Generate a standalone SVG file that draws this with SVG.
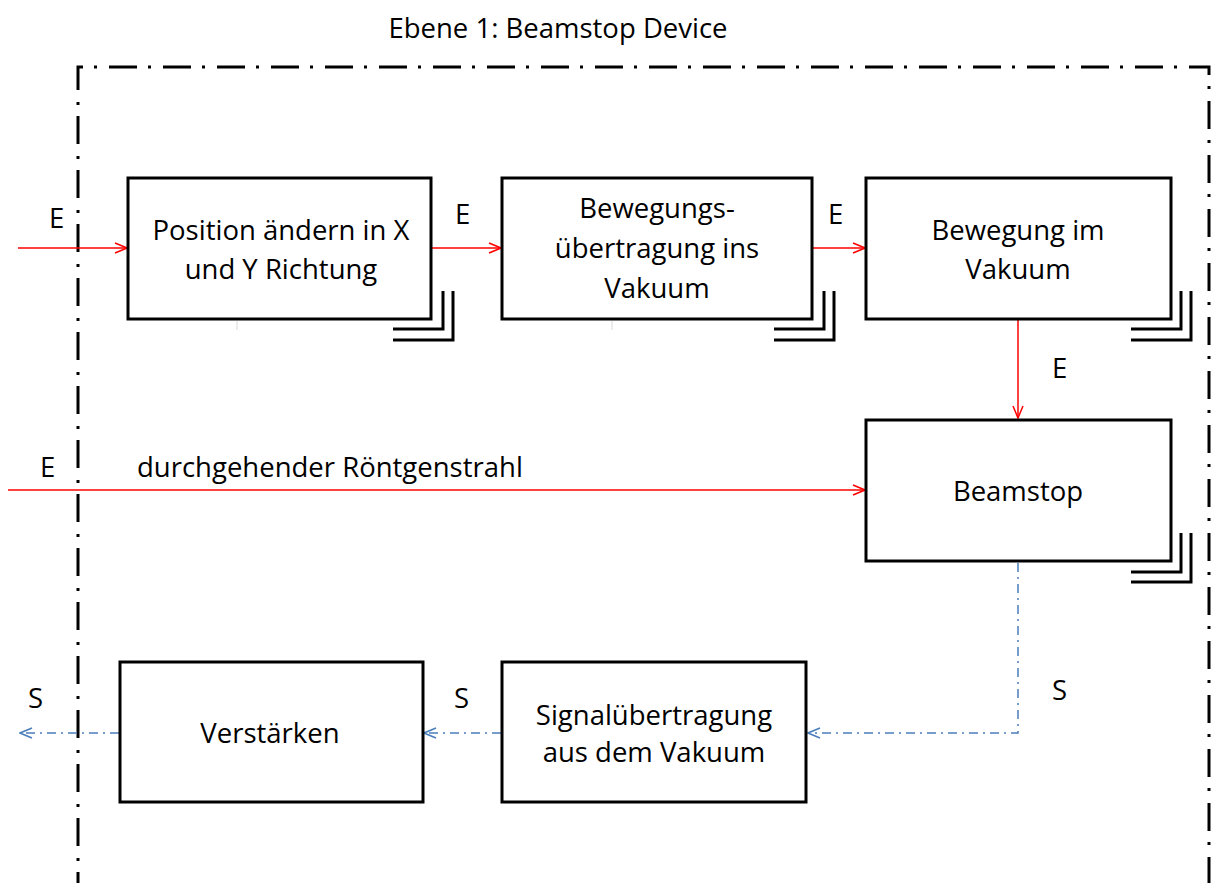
<svg xmlns="http://www.w3.org/2000/svg" width="1217" height="883" viewBox="0 0 1217 883">
  <style>
    .lbl { font-family: "Open Sans", "Noto Sans", sans-serif; font-size: 27.5px; fill: #000; }
    .mid { text-anchor: middle; }
    .box { fill: #fff; stroke: #000; stroke-width: 3; }
    .stack { fill: none; stroke: #000; stroke-width: 3; }
    .energy { fill: none; stroke: #ff0000; stroke-width: 1.5; }
    .signal { fill: none; stroke: #4a7ebb; stroke-width: 1.5; stroke-dasharray: 9 5 2 5; }
    .frame { fill: none; stroke: #000; stroke-width: 3; stroke-dasharray: 28 11 3 12; }
  </style>
  <defs>
    <marker id="arrowRed" viewBox="0 0 14 12" refX="13" refY="6" markerWidth="14" markerHeight="12" markerUnits="userSpaceOnUse" orient="auto">
      <path d="M1,1 L13,6 L1,11" fill="none" stroke="#ff0000" stroke-width="1.5"/>
    </marker>
    <marker id="arrowBlue" viewBox="0 0 14 12" refX="13" refY="6" markerWidth="14" markerHeight="12" markerUnits="userSpaceOnUse" orient="auto">
      <path d="M1,1 L13,6 L1,11" fill="none" stroke="#4a7ebb" stroke-width="1.5"/>
    </marker>
  </defs>

  <rect width="1217" height="883" fill="#fff"/>

  <text class="lbl mid" x="558" y="38">Ebene 1: Beamstop Device</text>

  <!-- system boundary -->
  <path class="frame" d="M78,900 L78,67 L1209,67 L1209,900"/>

  <!-- connectors -->
  <g id="connectors">
    <line class="energy" x1="18" y1="248" x2="127" y2="248" marker-end="url(#arrowRed)"/>
    <line class="energy" x1="432" y1="248" x2="501" y2="248" marker-end="url(#arrowRed)"/>
    <line class="energy" x1="813" y1="248" x2="865" y2="248" marker-end="url(#arrowRed)"/>
    <line class="energy" x1="1018" y1="320" x2="1018" y2="418" marker-end="url(#arrowRed)"/>
    <line class="energy" x1="8" y1="490" x2="865" y2="490" marker-end="url(#arrowRed)"/>
    <polyline class="signal" points="1018,563 1018,733 808,733" marker-end="url(#arrowBlue)"/>
    <line class="signal" x1="501" y1="733" x2="424" y2="733" marker-end="url(#arrowBlue)"/>
    <line class="signal" x1="119" y1="733" x2="20" y2="733" marker-end="url(#arrowBlue)"/>

    <text class="lbl" x="49" y="228">E</text>
    <text class="lbl" x="455" y="224">E</text>
    <text class="lbl" x="828" y="224">E</text>
    <text class="lbl" x="1052" y="378">E</text>
    <text class="lbl" x="40" y="477">E</text>
    <text class="lbl" x="137" y="477">durchgehender Röntgenstrahl</text>
    <text class="lbl" x="28" y="708">S</text>
    <text class="lbl" x="454" y="708">S</text>
    <text class="lbl" x="1052" y="700">S</text>
  </g>

  <!-- faint tick marks under the first row -->
  <line x1="237" y1="321" x2="237" y2="330" stroke="#d8d8d8" stroke-width="1"/>
  <line x1="612" y1="321" x2="612" y2="330" stroke="#d8d8d8" stroke-width="1"/>

  <g id="node-position">
    <rect class="box" x="128" y="178" width="303" height="141"/>
    <path class="stack" d="M393,329 L443,329 L443,291 M393,340 L453,340 L453,291"/>
    <text class="lbl mid" x="281" y="240">Position ändern in X</text>
    <text class="lbl mid" x="281" y="279">und Y Richtung</text>
  </g>

  <g id="node-uebertragung">
    <rect class="box" x="502" y="178" width="310" height="141"/>
    <path class="stack" d="M774,329 L824,329 L824,291 M774,340 L834,340 L834,291"/>
    <text class="lbl mid" x="657" y="218">Bewegungs-</text>
    <text class="lbl mid" x="657" y="258">übertragung ins</text>
    <text class="lbl mid" x="657" y="298">Vakuum</text>
  </g>

  <g id="node-bewegung">
    <rect class="box" x="866" y="178" width="305" height="141"/>
    <path class="stack" d="M1131,329 L1181,329 L1181,291 M1131,340 L1191,340 L1191,291"/>
    <text class="lbl mid" x="1018" y="240">Bewegung im</text>
    <text class="lbl mid" x="1018" y="279">Vakuum</text>
  </g>

  <g id="node-beamstop">
    <rect class="box" x="866" y="420" width="305" height="141"/>
    <path class="stack" d="M1131,572 L1181,572 L1181,533 M1131,582 L1191,582 L1191,533"/>
    <text class="lbl mid" x="1018" y="501">Beamstop</text>
  </g>

  <g id="node-signal">
    <rect class="box" x="502" y="662" width="304" height="140"/>
    <text class="lbl mid" x="654" y="725">Signalübertragung</text>
    <text class="lbl mid" x="654" y="762">aus dem Vakuum</text>
  </g>

  <g id="node-verstaerken">
    <rect class="box" x="120" y="662" width="303" height="140"/>
    <text class="lbl mid" x="270" y="743">Verstärken</text>
  </g>
</svg>
